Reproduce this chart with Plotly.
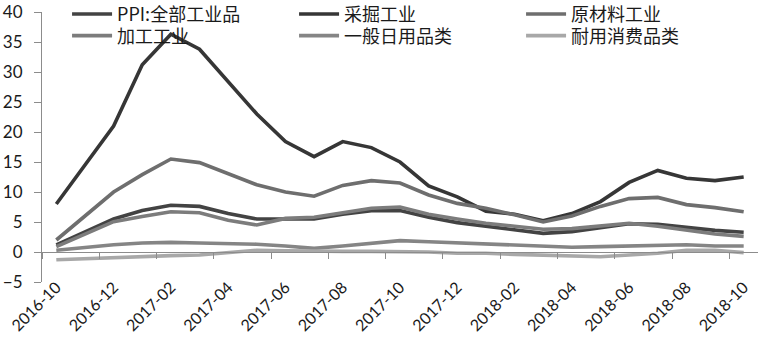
import plotly.graph_objects as go

months = ["2016-10", "2016-11", "2016-12", "2017-01", "2017-02", "2017-03", "2017-04",
          "2017-05", "2017-06", "2017-07", "2017-08", "2017-09", "2017-10", "2017-11",
          "2017-12", "2018-01", "2018-02", "2018-03", "2018-04", "2018-05", "2018-06",
          "2018-07", "2018-08", "2018-09", "2018-10"]

ppi_all = [1.2, 3.3, 5.5, 6.9, 7.8, 7.6, 6.4, 5.5, 5.5, 5.5, 6.3, 6.9, 6.9,
           5.8, 4.9, 4.3, 3.7, 3.1, 3.4, 4.1, 4.7, 4.6, 4.1, 3.6, 3.3]
mining = [8.0, 14.6, 21.0, 31.2, 36.3, 33.8, 28.3, 23.0, 18.4, 15.9, 18.4, 17.4, 15.0,
          11.0, 9.2, 6.8, 6.3, 5.2, 6.4, 8.4, 11.6, 13.6, 12.3, 11.9, 12.5]
raw_material = [2.0, 6.0, 10.0, 12.9, 15.5, 14.9, 13.0, 11.2, 10.0, 9.3, 11.1, 11.9, 11.5,
                9.5, 8.1, 7.3, 6.2, 5.0, 6.0, 7.6, 8.9, 9.1, 7.9, 7.4, 6.7]
processing = [0.9, 3.0, 5.05, 5.9, 6.7, 6.55, 5.3, 4.5, 5.6, 5.8, 6.5, 7.3, 7.5,
              6.3, 5.5, 4.8, 4.3, 3.8, 3.9, 4.3, 4.8, 4.3, 3.6, 3.0, 2.6]
daily_goods = [0.3, 0.8, 1.2, 1.5, 1.6, 1.5, 1.4, 1.3, 1.0, 0.6, 1.0, 1.4, 1.9,
               1.7, 1.5, 1.3, 1.1, 0.9, 0.8, 0.9, 1.0, 1.0, 1.2, 1.0, 1.0]
durables = [-1.3, -1.1, -0.9, -0.7, -0.6, -0.5, -0.1, 0.3, 0.2, 0.1, 0.1, 0.1, 0.1,
            0.0, -0.2, -0.2, -0.4, -0.5, -0.7, -0.8, -0.5, -0.2, 0.3, 0.3, -0.1]

series_names = ["PPI:全部工业品", "采掘工业", "原材料工业", "加工工业", "一般日用品类", "耐用消费品类"]
series_values = [ppi_all, mining, raw_material, processing, daily_goods, durables]
series_colors = ["#434343", "#363636", "#6e6e6e", "#7c7c7c", "#858585", "#a8a8a8"]

idx = list(range(len(months)))
axis_gray = "#8c8c8c"
num_font = dict(family="Lato, Open Sans, sans-serif", size=17, color="#1a1a1a")
date_font = dict(family="Lato, Open Sans, sans-serif", size=16, color="#1a1a1a")
legend_font = dict(family="Noto Sans CJK SC", size=18, color="#1a1a1a")

fig = go.Figure()
for k, (name, vals, col) in enumerate(zip(series_names, series_values, series_colors)):
    fig.add_trace(go.Scatter(
        x=idx, y=vals, name=name, mode="lines",
        line=dict(color=col, width=3.6),
        xaxis="x2" if k == len(series_names) - 1 else "x",
        legend="legend" if k < 3 else "legend2",
    ))

x_range = [-0.5, len(months) - 0.5]
# fraction of plot height where y = 0 sits (range -5..40)
zero_pos = 5 / 45

legend_common = dict(
    orientation="h", x=0.035, xanchor="left", yanchor="top",
    font=legend_font, bgcolor="rgba(0,0,0,0)", entrywidth=172, itemwidth=40,
)

fig.update_layout(
    width=758, height=338,
    margin=dict(l=42, r=0, t=12, b=56, autoexpand=False),
    paper_bgcolor="white", plot_bgcolor="white",
    showlegend=True,
    legend=dict(legend_common, y=1.06),
    legend2=dict(legend_common, y=0.98),
    xaxis=dict(
        range=x_range, tickmode="array", tickvals=idx[::2], ticktext=months[::2],
        tickangle=-45, ticks="", showline=False, showgrid=False, zeroline=False,
        tickfont=date_font, automargin=False, ticklabelstandoff=-8,
    ),
    xaxis2=dict(
        range=x_range, overlaying="x", anchor="free", position=zero_pos,
        tickmode="array", tickvals=[i - 0.5 for i in idx[::2]],
        ticks="outside", ticklen=6, tickcolor=axis_gray, tickwidth=1,
        showline=True, linecolor=axis_gray, linewidth=1,
        showticklabels=False, showgrid=False, zeroline=False, automargin=False,
    ),
    yaxis=dict(
        range=[-5, 40], dtick=5, tick0=0, showline=True, linecolor=axis_gray, linewidth=1,
        ticks="outside", ticklen=7, tickcolor=axis_gray, showgrid=False, zeroline=False,
        tickfont=num_font, ticklabelstandoff=8, automargin=False,
    ),
)

fig.write_html("out.html")
